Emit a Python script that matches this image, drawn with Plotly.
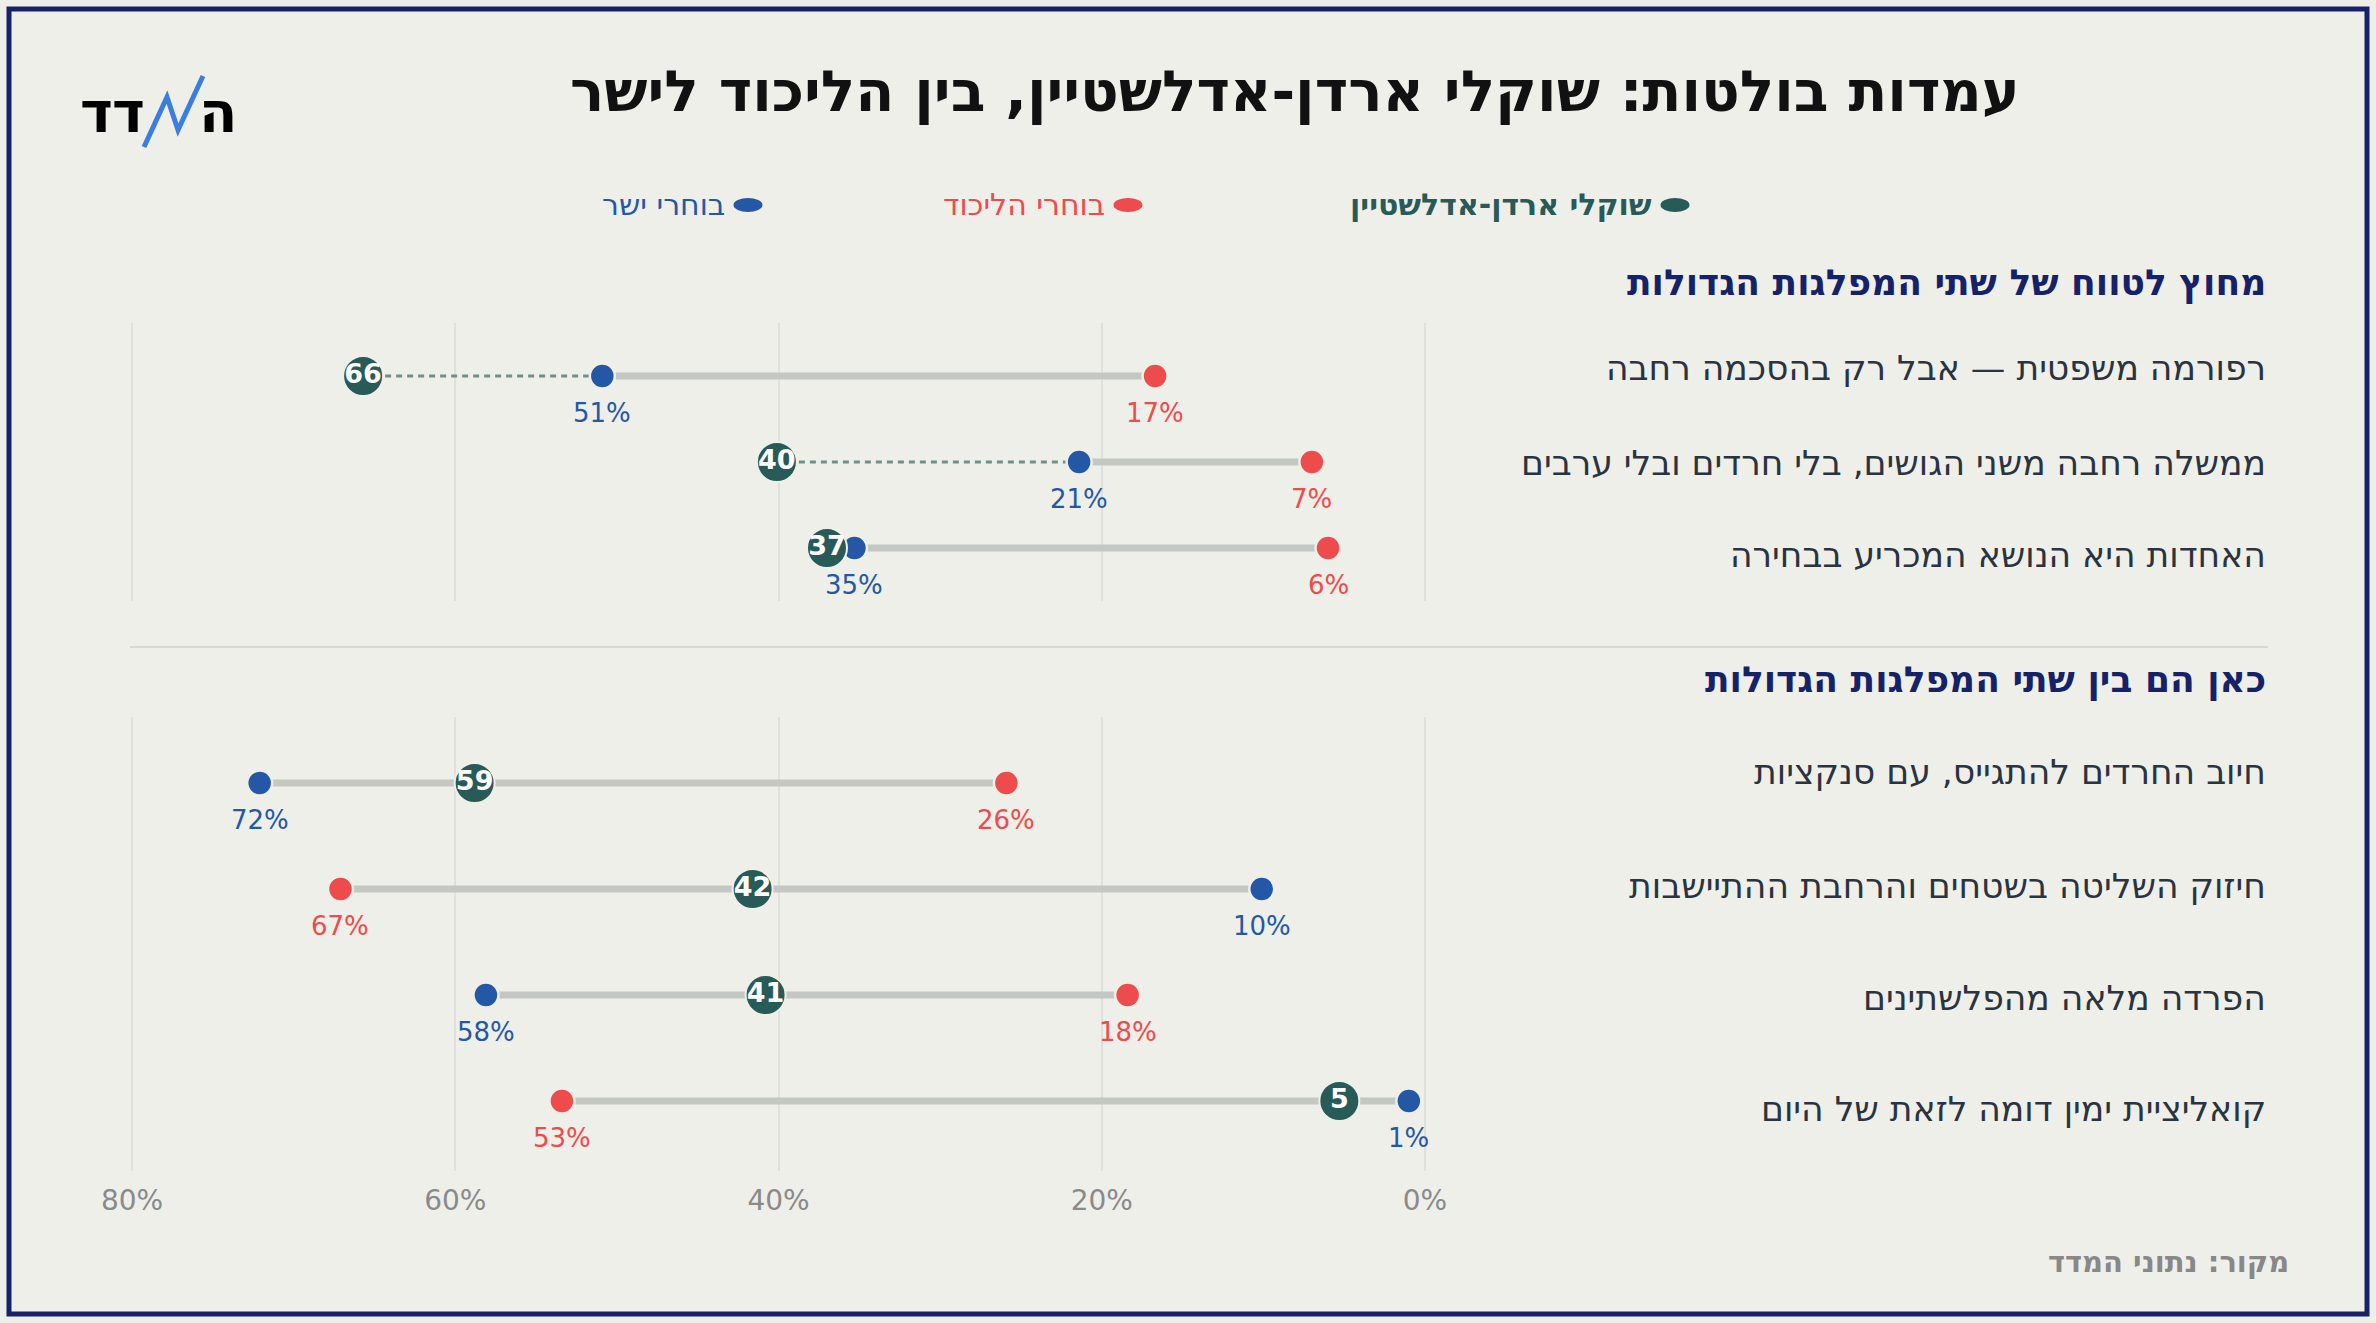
import plotly.graph_objects as go

# --- data (labels show the rounded value) -----------------------------
top_rows = [
    "רפורמה משפטית — אבל רק בהסכמה רחבה",
    "ממשלה רחבה משני הגושים, בלי חרדים ובלי ערבים",
    "האחדות היא הנושא המכריע בבחירה",
]
top_eden = [65.7, 40.1, 37.0]      # שוקלי ארדן-אדלשטיין
top_yashar = [50.9, 21.4, 35.3]    # בוחרי ישר
top_likud = [16.7, 7.0, 6.0]       # בוחרי הליכוד

bottom_rows = [
    "חיוב החרדים להתגייס, עם סנקציות",
    "חיזוק השליטה בשטחים והרחבת ההתיישבות",
    "הפרדה מלאה מהפלשתינים",
    "קואליציית ימין דומה לזאת של היום",
]
bottom_eden = [58.8, 41.6, 40.8, 5.3]
bottom_yashar = [72.1, 10.1, 58.1, 1.0]
bottom_likud = [25.9, 67.1, 18.4, 53.4]

x_ticks = [80, 60, 40, 20, 0]

# --- style ------------------------------------------------------------
W, H = 2376, 1323
BG = "#efefea"
BLUE = "#2557a7"
RED = "#ee4c4c"
GREEN = "#285a57"
NAVY = "#15226a"
TEXT = "#2a3340"
FONT = "DejaVu Sans"


def px(x):
    return x / W


def py(y):
    return 1 - y / H


def note(x, y, text, size, color, xanchor="center"):
    fig.add_annotation(x=px(x), y=py(y), xref="paper", yref="paper",
                       xanchor=xanchor, yanchor="middle", showarrow=False, text=text,
                       font=dict(family=FONT, size=size, color=color))


fig = go.Figure()


def add_section(eden, yashar, likud, xa, ya):
    # solid grey range between the two big parties, dotted extension to the green dot
    gx, gy = [], []
    dx, dy = [], []
    for i, (e, b, r) in enumerate(zip(eden, yashar, likud)):
        gx += [b, r, None]
        gy += [i, i, None]
        lo, hi = min(b, r), max(b, r)
        if e > hi:
            dx += [e, hi, None]
            dy += [i, i, None]
        elif e < lo:
            dx += [e, lo, None]
            dy += [i, i, None]
    fig.add_trace(go.Scatter(x=gx, y=gy, mode="lines", xaxis=xa, yaxis=ya,
                             line=dict(color="#c4c7c2", width=7),
                             hoverinfo="skip", showlegend=False))
    fig.add_trace(go.Scatter(x=dx, y=dy, mode="lines", xaxis=xa, yaxis=ya,
                             line=dict(color="#6f8f89", width=3, dash="6px,5px"),
                             hoverinfo="skip", showlegend=False))
    rows = list(range(len(eden)))
    for vals, col in [(yashar, BLUE), (likud, RED)]:
        fig.add_trace(go.Scatter(
            x=vals, y=rows, mode="markers", xaxis=xa, yaxis=ya, cliponaxis=False,
            marker=dict(size=25, color=col, line=dict(color=BG, width=2.5)),
            showlegend=False))
        for v, i in zip(vals, rows):
            fig.add_annotation(x=v, y=i, xref=xa.replace("axis", ""), yref=ya.replace("axis", ""),
                               text=f"{round(v)}%", showarrow=False, yshift=-37,
                               xanchor="center", yanchor="middle",
                               font=dict(family=FONT, size=26, color=col))
    fig.add_trace(go.Scatter(
        x=eden, y=rows, mode="markers+text", xaxis=xa, yaxis=ya, cliponaxis=False,
        marker=dict(size=40, color=GREEN, line=dict(color=BG, width=2)),
        text=[f"<b>{round(v)}</b>" for v in eden], textposition="middle center",
        textfont=dict(family=FONT, size=27, color="white"),
        showlegend=False))


add_section(top_eden, top_yashar, top_likud, "x", "y")
add_section(bottom_eden, bottom_yashar, bottom_likud, "x2", "y2")

# row labels
top_label_y = [368, 463, 555]
bottom_label_y = [772, 886, 998, 1109]
for txt, yy in list(zip(top_rows, top_label_y)) + list(zip(bottom_rows, bottom_label_y)):
    note(2268, yy, txt, 34.6, TEXT, "right")

# section headers
note(2268, 283, "<b>מחוץ לטווח של שתי המפלגות הגדולות</b>", 36, NAVY, "right")
note(2268, 680, "<b>כאן הם בין שתי המפלגות הגדולות</b>", 36, NAVY, "right")

# title
note(1295, 91, "<b>עמדות בולטות: שוקלי ארדן-אדלשטיין, בין הליכוד לישר</b>", 57, "#111111")

# legend
legend = [("<b>שוקלי ארדן-אדלשטיין</b>", GREEN, 1675),
          ("בוחרי הליכוד", RED, 1128),
          ("בוחרי ישר", BLUE, 748)]
shapes = []
for txt, col, cx in legend:
    shapes.append(dict(type="circle", xref="paper", yref="paper",
                       x0=px(cx - 14.5), x1=px(cx + 14.5), y0=py(212), y1=py(198),
                       fillcolor=col, line=dict(width=0)))
    note(cx - 21, 204, txt, 30, col, "right")

# logo
note(96, 112, "<b>ד</b>", 56, "#000000")
note(128, 112, "<b>ד</b>", 56, "#000000")
note(218, 112, "<b>ה</b>", 56, "#000000")
shapes.append(dict(type="path", xref="paper", yref="paper",
                   path=f"M {px(144)} {py(147)} L {px(167)} {py(97)} L {px(178)} {py(130)} L {px(203)} {py(76)}",
                   line=dict(color="#3b7de0", width=5)))

# separator and border
shapes.append(dict(type="line", xref="paper", yref="paper",
                   x0=px(130), x1=px(2268), y0=py(647), y1=py(647),
                   line=dict(color="#d0d0cb", width=1.5)))
shapes.append(dict(type="rect", xref="paper", yref="paper",
                   x0=px(9), x1=px(2367), y0=py(1314), y1=py(9),
                   line=dict(color="#15226a", width=5)))

# source
note(2291, 1262, "<b>מקור: נתוני המדד</b>", 29, "#888888", "right")

unit = (1425 - 132) / 80
x_dom = [px(132 - 2 * unit), px(1425 + 2 * unit)]
xa_common = dict(range=[82, -2], domain=x_dom, showgrid=True, gridcolor="#e0e0db",
                 gridwidth=1.5, zeroline=False, showline=False,
                 tickvals=x_ticks, ticktext=[f"{v}%" for v in x_ticks])

fig.update_layout(
    width=W, height=H,
    margin=dict(l=0, r=0, t=0, b=0),
    paper_bgcolor=BG, plot_bgcolor=BG,
    font=dict(family=FONT),
    shapes=shapes,
    showlegend=False,
    xaxis=dict(**xa_common, anchor="y", showticklabels=False),
    xaxis2=dict(**xa_common, anchor="y2", showticklabels=True,
                ticks="outside", ticklen=4, tickcolor=BG,
                tickfont=dict(family=FONT, size=28, color="#8a8a8a")),
    yaxis=dict(domain=[py(601), py(323)], range=[2.616, -0.616], visible=False),
    yaxis2=dict(domain=[py(1171), py(717)], range=[3.66, -0.623], visible=False),
)

fig.write_html("out.html", config={"displayModeBar": False},
               post_script="document.body.style.margin='0';document.body.style.overflow='hidden';")
